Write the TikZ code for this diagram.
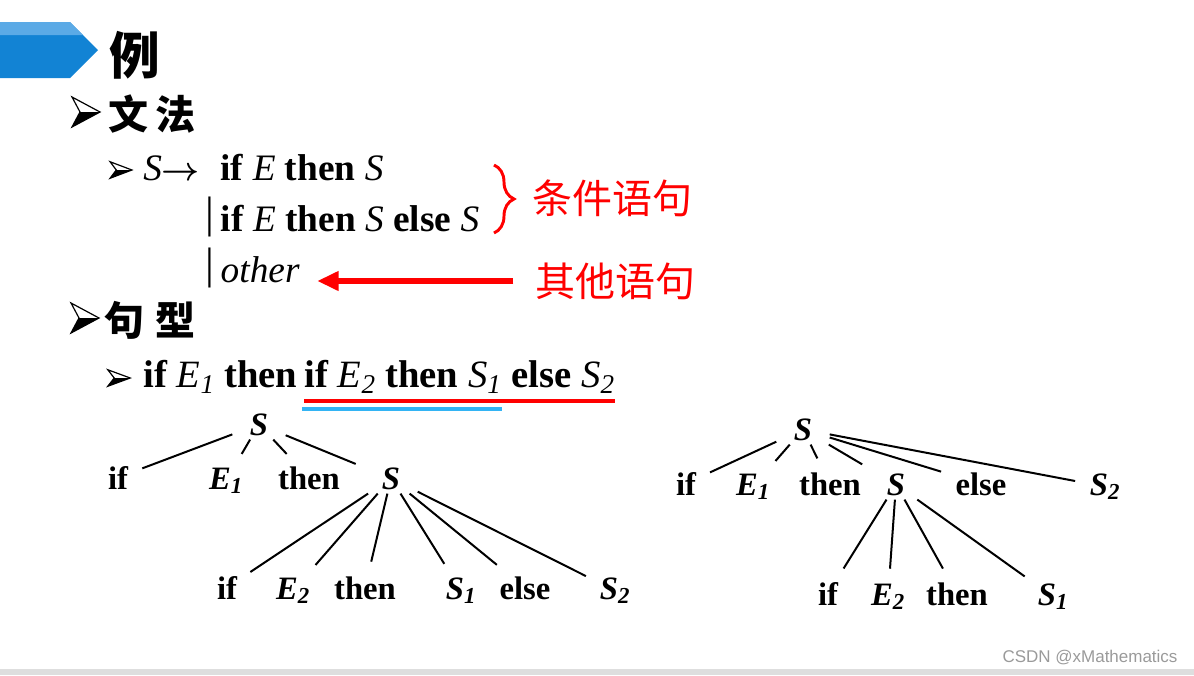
\documentclass[tikz,border=0pt]{standalone}
\usepackage{fontspec}
\setmainfont{Liberation Serif}
\newfontfamily\cjk{Noto Sans CJK SC}
\newfontfamily\marksans{Liberation Sans}
\usetikzlibrary{arrows.meta}
\usetikzlibrary{decorations.pathreplacing}

\definecolor{bannerblue}{HTML}{1283D4}
\definecolor{bannerlight}{HTML}{5BAAE6}
\definecolor{lineblue}{HTML}{33B4F4}
\definecolor{markgrey}{HTML}{9A9A9A}
\definecolor{bargrey}{HTML}{DEDEDE}

\newcommand{\idx}[2]{#1\textsubscript{#2}}
\newcommand{\altbar}{\raisebox{3pt}{\fontsize{33}{33}\selectfont|}\hspace{5pt}}

\tikzset{
  bulletmark/.pic={
    \draw[line width=.9pt, fill=white] (-14,-15) -- (14,0) -- (-14,15) -- (-6,0) -- cycle;
    \fill (-6,0) -- (14,0) -- (-14,15) -- cycle;
  },
  rule/.style={anchor=base west, inner sep=0pt, font=\fontsize{28}{30}\selectfont},
  sent/.style={anchor=base west, inner sep=0pt, font=\fontsize{29}{31}\selectfont},
  heading/.style={inner sep=0pt, font=\cjk\bfseries\fontsize{30}{32}\selectfont},
  note/.style={inner sep=0pt, text=red, font=\cjk\fontsize{30}{32}\selectfont},
  leaf/.style={anchor=base, inner sep=4pt, font=\bfseries\fontsize{24.5}{26}\selectfont},
  parent/.style={leaf, inner xsep=13pt, inner ysep=3pt},
  branch/.style={line width=1.5pt, shorten >=7pt},
}

\begin{document}
\begin{tikzpicture}[x=0.75pt, y=-0.75pt]
\useasboundingbox (0,0) rectangle (1194,675);
% title banner
\fill[bannerblue] (0,22) -- (70,22) -- (98,50) -- (70,78) -- (0,78) -- cycle;
\fill[bannerlight] (0,22) -- (70,22) -- (83,35) -- (0,35) -- cycle;
\node[inner sep=0pt, font=\cjk\bfseries\fontsize{38}{40}\selectfont] (title) at (135,55) {例};

% grammar
\pic at (86,112) {bulletmark};
\node[heading] (gram) at (152,114) {文\hspace{5pt}法};
\pic[xscale=.78, yscale=.55] at (121,170) {bulletmark};
\node[rule] (lhs) at (143,180) {\textit{S}{\boldmath$\rightarrow$}};
\node[rule] (alt1) at (220,180) {\textbf{if} \textit{E} \textbf{then} \textit{S}};
\node[rule] (alt2) at (205,231) {\altbar\textbf{if} \textit{E} \textbf{then} \textit{S} \textbf{else} \textit{S}};
\node[rule] (alt3) at (205,282) {\altbar\textit{other}};
\draw[red, line width=2.2pt, decorate, decoration={brace, amplitude=15pt}] (494,165) -- (494,233);
\node[note] (cond) at (612,198) {条件语句};
\node[note] (oth) at (615,281) {其他语句};
\draw[red, line width=3.8pt, -{Triangle[length=16pt, width=14pt]}, shorten <=16pt, shorten >=13pt] (oth.west) -- (oth.west -| alt3.east);

% sentence
\pic at (85,318) {bulletmark};
\node[heading] (form) at (150,320) {句\hspace{8pt}型};
\pic[xscale=.8, yscale=.55] at (119,378) {bulletmark};
\node[sent] (s1) at (143,387) {\textbf{if} \textit{\idx{E}{1}} \textbf{then}};
\node[sent] (s2) at (304,387) {\textbf{if} \textit{\idx{E}{2}} \textbf{then} \textit{\idx{S}{1}}};
\node[sent] (s3) at ([xshift=7pt]s2.base east) {\textbf{else} \textit{\idx{S}{2}}};
\draw[red, line width=3pt] ([yshift=-10.5pt]s2.base west) -- ([yshift=-10.5pt]s3.base east);
\draw[lineblue, line width=3pt] ([yshift=-16.5pt, xshift=-1.5pt]s2.base west) -- ([yshift=-16.5pt]s2.base east);

% left tree
\node[parent] (lroot) at (259,435) {\textit{S}};
\node[leaf] (lif) at (118,489) {if};
\node[leaf] (le1) at (226,489) {\textit{\idx{E}{1}}};
\node[leaf] (lthen) at (309,489) {then};
\node[parent] (ls) at (391,489) {\textit{S}};
\node[leaf] (lif2) at (227,599) {if};
\node[leaf] (le2) at (293,599) {\textit{\idx{E}{2}}};
\node[leaf] (lthen2) at (365,599) {then};
\node[leaf] (ls1) at (461,599) {\textit{\idx{S}{1}}};
\node[leaf] (lelse) at (525,599) {else};
\node[leaf] (ls2) at (615,599) {\textit{\idx{S}{2}}};
\draw[branch] (lroot) -- (lif);
\draw[branch] (lroot) -- (le1);
\draw[branch] (lroot) -- (lthen);
\draw[branch] (lroot) -- (ls);
\draw[branch] (ls) -- (lif2);
\draw[branch] (ls) -- (le2);
\draw[branch] (ls) -- (lthen2);
\draw[branch] (ls) -- (ls1);
\draw[branch] (ls) -- (lelse);
\draw[branch] (ls) -- (ls2);

% right tree
\node[parent] (rroot) at (803,440) {\textit{S}};
\node[leaf] (rif) at (686,495) {if};
\node[leaf] (re1) at (753,495) {\textit{\idx{E}{1}}};
\node[leaf] (rthen) at (830,495) {then};
\node[parent] (rs) at (896,495) {\textit{S}};
\node[leaf] (relse) at (981,495) {else};
\node[leaf] (rs2) at (1105,495) {\textit{\idx{S}{2}}};
\node[leaf] (rif2) at (828,605) {if};
\node[leaf] (re2) at (888,605) {\textit{\idx{E}{2}}};
\node[leaf] (rthen2) at (957,605) {then};
\node[leaf] (rs1) at (1053,605) {\textit{\idx{S}{1}}};
\draw[branch] (rroot) -- (rif);
\draw[branch] (rroot) -- (re1);
\draw[branch] (rroot) -- (rthen);
\draw[branch] (rroot) -- (rs);
\draw[branch] (rroot) -- (relse);
\draw[branch] (rroot) -- (rs2);
\draw[branch] (rs) -- (rif2);
\draw[branch] (rs) -- (re2);
\draw[branch] (rs) -- (rthen2);
\draw[branch] (rs) -- (rs1);

% footer
\node[inner sep=0pt, text=markgrey, font=\marksans\fontsize{12.75}{14}\selectfont] (mark) at (1090,658) {CSDN @xMathematics};
\fill[bargrey] (0,669) rectangle (1194,675);
\end{tikzpicture}
\end{document}
